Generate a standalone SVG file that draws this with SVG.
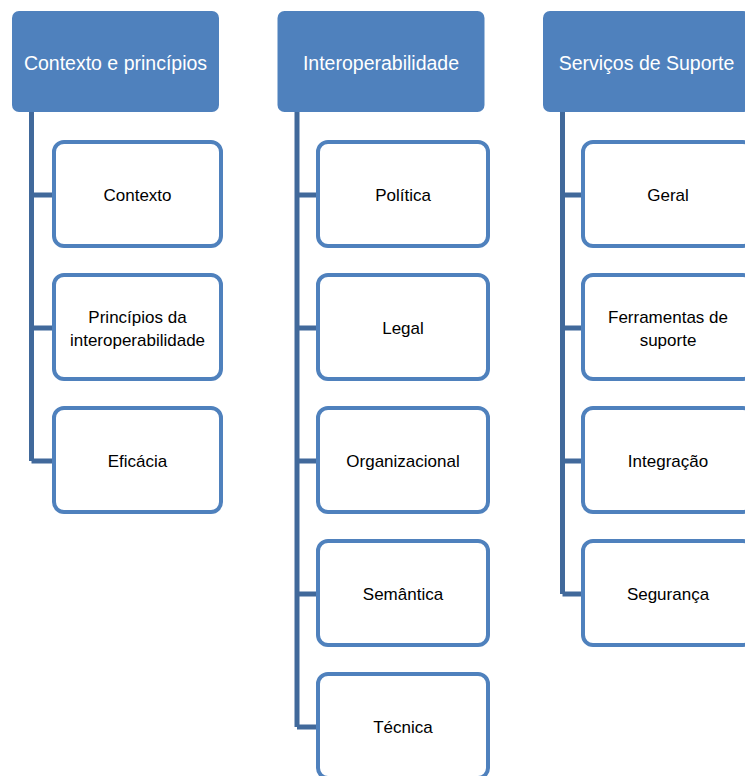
<svg xmlns="http://www.w3.org/2000/svg" width="745" height="776" viewBox="0 0 745 776">
  <style>
    .hdr { fill: #4F81BD; }
    .hdr-t { fill: #FFFFFF; font-family: "Liberation Sans", Arial, sans-serif; font-size: 19.5px; text-anchor: middle; }
    .box { fill: #FFFFFF; stroke: #4F81BD; stroke-width: 4; }
    .box-t { fill: #000000; font-family: "Liberation Sans", Arial, sans-serif; font-size: 17px; text-anchor: middle; }
    .conn { fill: none; stroke: #41699B; stroke-width: 5; stroke-linejoin: miter; }
  </style>

  <!-- connectors -->
  <g id="connectors">
    <path class="conn" d="M31.5 112 V461 M31.5 195 H54 M31.5 328 H54 M31.5 461 H54"/>
    <path class="conn" d="M297 112 V727 M297 195 H318 M297 328 H318 M297 461 H318 M297 594 H318 M297 727 H318"/>
    <path class="conn" d="M562.5 112 V594 M562.5 195 H583 M562.5 328 H583 M562.5 461 H583 M562.5 594 H583"/>
  </g>

  <!-- column 1 -->
  <g id="h-contexto">
    <rect class="hdr" x="12" y="11" width="207" height="101" rx="7"/>
    <text class="hdr-t" x="115.5" y="70">Contexto e princípios</text>
  </g>
  <g id="n-contexto">
    <rect class="box" x="54" y="142" width="167" height="104" rx="10"/>
    <text class="box-t" x="137.5" y="201">Contexto</text>
  </g>
  <g id="n-principios">
    <rect class="box" x="54" y="275" width="167" height="104" rx="10"/>
    <text class="box-t" x="137.5" y="323">Princípios da</text>
    <text class="box-t" x="137.5" y="346">interoperabilidade</text>
  </g>
  <g id="n-eficacia">
    <rect class="box" x="54" y="408" width="167" height="104" rx="10"/>
    <text class="box-t" x="137.5" y="467">Eficácia</text>
  </g>

  <!-- column 2 -->
  <g id="h-interop">
    <rect class="hdr" x="277.5" y="11" width="207" height="101" rx="7"/>
    <text class="hdr-t" x="381" y="70">Interoperabilidade</text>
  </g>
  <g id="n-politica">
    <rect class="box" x="318" y="142" width="170" height="104" rx="10"/>
    <text class="box-t" x="403" y="201">Política</text>
  </g>
  <g id="n-legal">
    <rect class="box" x="318" y="275" width="170" height="104" rx="10"/>
    <text class="box-t" x="403" y="334">Legal</text>
  </g>
  <g id="n-organizacional">
    <rect class="box" x="318" y="408" width="170" height="104" rx="10"/>
    <text class="box-t" x="403" y="467">Organizacional</text>
  </g>
  <g id="n-semantica">
    <rect class="box" x="318" y="541" width="170" height="104" rx="10"/>
    <text class="box-t" x="403" y="600">Semântica</text>
  </g>
  <g id="n-tecnica">
    <rect class="box" x="318" y="674" width="170" height="104" rx="10"/>
    <text class="box-t" x="403" y="733">Técnica</text>
  </g>

  <!-- column 3 -->
  <g id="h-servicos">
    <rect class="hdr" x="543" y="11" width="207" height="101" rx="7"/>
    <text class="hdr-t" x="646.5" y="70">Serviços de Suporte</text>
  </g>
  <g id="n-geral">
    <rect class="box" x="583" y="142" width="170" height="104" rx="10"/>
    <text class="box-t" x="668" y="201">Geral</text>
  </g>
  <g id="n-ferramentas">
    <rect class="box" x="583" y="275" width="170" height="104" rx="10"/>
    <text class="box-t" x="668" y="323">Ferramentas de</text>
    <text class="box-t" x="668" y="346">suporte</text>
  </g>
  <g id="n-integracao">
    <rect class="box" x="583" y="408" width="170" height="104" rx="10"/>
    <text class="box-t" x="668" y="467">Integração</text>
  </g>
  <g id="n-seguranca">
    <rect class="box" x="583" y="541" width="170" height="104" rx="10"/>
    <text class="box-t" x="668" y="600">Segurança</text>
  </g>
</svg>
